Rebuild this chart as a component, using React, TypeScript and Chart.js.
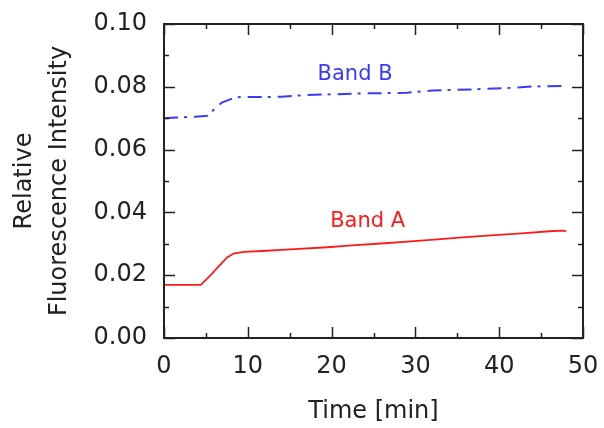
import React, { useEffect, useRef } from "react";
import { Chart, registerables } from "chart.js";

Chart.register(...registerables);

// Band A (red, solid)
const timesA = [0, 2, 4.4, 5.5, 6.5, 7.5, 8.3, 9.5, 11.7, 15.6, 19.5, 22.4, 25.9, 29.5, 33, 36, 39, 42.7, 46, 47.6, 48];
const valuesA = [0.0169, 0.0169, 0.0169, 0.0199, 0.0227, 0.0256, 0.0269, 0.0274, 0.0277, 0.0283, 0.0289, 0.0295, 0.0301, 0.0308, 0.0315, 0.0321, 0.0327, 0.0333, 0.034, 0.0342, 0.034];

// Band B (blue, dash-dot)
const timesB = [0, 1.5, 3.7, 5.2, 5.9, 6.9, 7.9, 8.5, 14, 17, 24, 29, 32, 37, 41, 44, 48];
const valuesB = [0.07, 0.0702, 0.0705, 0.0708, 0.0726, 0.075, 0.076, 0.0767, 0.0768, 0.0774, 0.0779, 0.0781, 0.0788, 0.0792, 0.0796, 0.0801, 0.0803];

const xTicks = [0, 10, 20, 30, 40, 50];
const yTicks = [0, 0.02, 0.04, 0.06, 0.08, 0.1];

const seriesLabels = ["Band A", "Band B"];
const labelPosX = [24.3, 22.8];
const labelPosY = [0.0372, 0.0838];

const FONT = "'DejaVu Sans', 'Liberation Sans', Arial, sans-serif";
const RED = "#ff1a1a";
const BLUE = "#3a3aff";
const INK = "#222222";

const framePlugin = {
  id: "framePlugin",
  afterDatasetsDraw(chart: any) {
    const { ctx, scales } = chart;
    const xs = scales.x;
    const ys = scales.y;
    ctx.save();
    ctx.font = `21px ${FONT}`;
    ctx.textAlign = "center";
    ctx.textBaseline = "middle";
    const colors = [RED, BLUE];
    seriesLabels.forEach((t, i) => {
      ctx.fillStyle = colors[i];
      ctx.fillText(t, xs.getPixelForValue(labelPosX[i]), ys.getPixelForValue(labelPosY[i]));
    });
    ctx.restore();
  },
  afterDraw(chart: any) {
    const { ctx, chartArea, scales } = chart;
    const { left, right, top, bottom } = chartArea;
    const xs = scales.x;
    const ys = scales.y;
    ctx.save();
    ctx.strokeStyle = INK;
    ctx.lineWidth = 2;
    ctx.strokeRect(left, top, right - left, bottom - top);
    ctx.lineWidth = 1.5;
    ctx.beginPath();
    for (let v = 0; v <= 50; v += 5) {
      const px = Math.round(xs.getPixelForValue(v)) + 0.5;
      const len = v % 10 === 0 ? 11 : 5;
      ctx.moveTo(px, bottom);
      ctx.lineTo(px, bottom - len);
      ctx.moveTo(px, top);
      ctx.lineTo(px, top + len);
    }
    for (let k = 0; k <= 10; k++) {
      const py = Math.round(ys.getPixelForValue(k / 100)) + 0.5;
      const len = k % 2 === 0 ? 11 : 5;
      ctx.moveTo(left, py);
      ctx.lineTo(left + len, py);
      ctx.moveTo(right, py);
      ctx.lineTo(right - len, py);
    }
    ctx.stroke();
    ctx.restore();
  },
};

export default function App() {
  const ref = useRef<HTMLCanvasElement | null>(null);
  useEffect(() => {
    document.body.style.margin = "0";
    const canvas = ref.current;
    if (!canvas) return;
    const chart = new Chart(canvas, {
      type: "line",
      data: {
        datasets: [
          {
            label: seriesLabels[0],
            data: timesA.map((t, i) => ({ x: t, y: valuesA[i] })),
            borderColor: RED,
            borderWidth: 1.8,
            pointRadius: 0,
            fill: false,
            tension: 0,
          },
          {
            label: seriesLabels[1],
            data: timesB.map((t, i) => ({ x: t, y: valuesB[i] })),
            borderColor: BLUE,
            borderWidth: 2,
            borderDash: [14, 6, 3, 7],
            pointRadius: 0,
            fill: false,
            tension: 0,
          },
        ],
      },
      options: {
        responsive: false,
        animation: false,
        devicePixelRatio: 1,
        layout: { padding: { top: 24, right: 21, left: 0, bottom: 0 } },
        plugins: { legend: { display: false }, tooltip: { enabled: false } },
        scales: {
          x: {
            type: "linear",
            min: 0,
            max: 50,
            grid: { display: false, drawTicks: false },
            border: { display: false },
            afterBuildTicks: (s: any) => {
              s.ticks = xTicks.map((v) => ({ value: v }));
            },
            afterFit: (s: any) => {
              s.height = 90;
              s.paddingLeft = 0;
              s.paddingRight = 0;
            },
            ticks: {
              color: INK,
              font: { family: FONT, size: 24 },
              padding: 14,
              maxRotation: 0,
              callback: (v: any) => String(v),
            },
            title: {
              display: true,
              text: "Time [min]",
              color: INK,
              font: { family: FONT, size: 24, lineHeight: 1.2 },
              padding: { top: 0, bottom: 2 },
            },
          },
          y: {
            type: "linear",
            min: 0,
            max: 0.1,
            grid: { display: false, drawTicks: false },
            border: { display: false },
            afterBuildTicks: (s: any) => {
              s.ticks = yTicks.map((v) => ({ value: v }));
            },
            afterFit: (s: any) => {
              s.width = 164;
              s.paddingTop = 0;
              s.paddingBottom = 0;
            },
            ticks: {
              color: INK,
              font: { family: FONT, size: 24 },
              padding: 17,
              callback: (v: any) => Number(v).toFixed(2),
            },
            title: {
              display: true,
              text: ["Relative", "Fluorescence Intensity"],
              color: INK,
              font: { family: FONT, size: 24, lineHeight: 1.45 },
              padding: { top: 7.5, bottom: 0 },
            },
          },
        },
      },
      plugins: [framePlugin],
    } as any);
    return () => chart.destroy();
  }, []);
  return (
    <div style={{ position: "fixed", left: 0, top: 0, width: 604, height: 428, background: "#fff" }}>
      <canvas ref={ref} width={604} height={428} style={{ width: 604, height: 428 }} />
    </div>
  );
}
